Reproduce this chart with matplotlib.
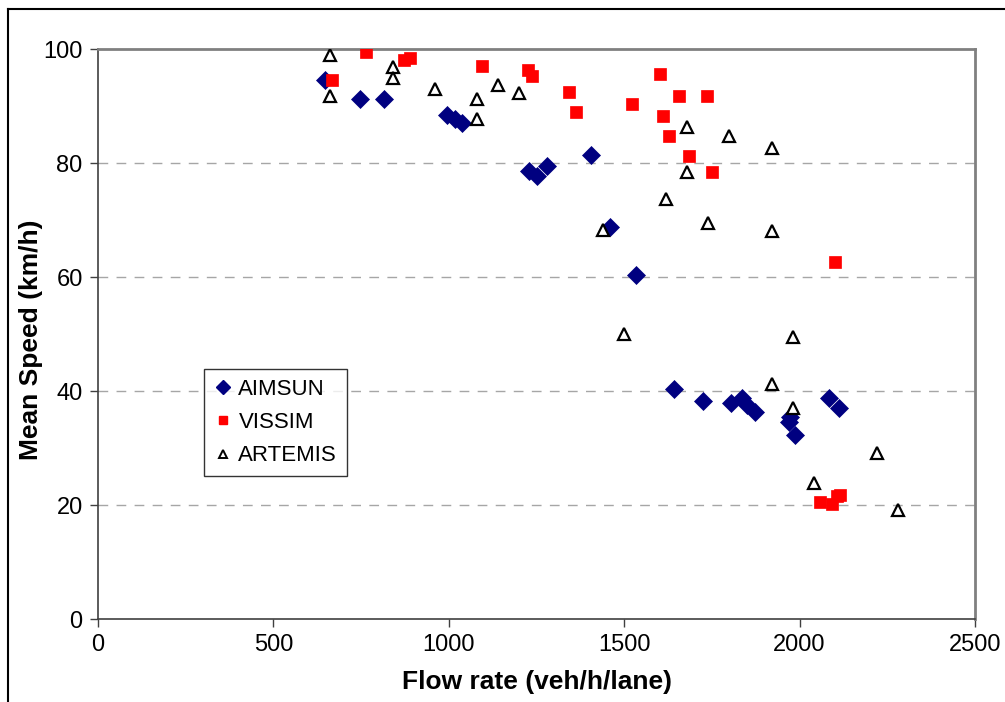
import matplotlib
matplotlib.use("Agg")
import matplotlib.pyplot as plt
from matplotlib.lines import Line2D

plt.rcParams['font.family'] = ['Liberation Sans', 'DejaVu Sans']

# AIMSUN
aimsun_flow = [648, 747, 816, 994, 1018, 1039, 1229, 1250, 1279, 1404, 1459, 1535,
               1643, 1724, 1804, 1835, 1849, 1873, 1973, 1970, 1987, 2085, 2113]
aimsun_speed = [94.6, 91.2, 91.2, 88.4, 87.8, 87.0, 78.6, 77.8, 79.4, 81.4, 68.8, 60.3,
                40.4, 38.2, 37.9, 38.7, 37.5, 36.4, 35.5, 34.6, 32.3, 38.7, 37.1]

# VISSIM
vissim_flow = [666, 763, 872, 888, 1094, 1225, 1236, 1344, 1362, 1521, 1602, 1657, 1737,
               1612, 1629, 1686, 1749, 2101, 2058, 2091, 2106, 2115]
vissim_speed = [94.6, 99.5, 98.1, 98.4, 97.1, 96.3, 95.3, 92.5, 89.0, 90.4, 95.6, 91.8, 91.8,
                88.2, 84.7, 81.2, 78.5, 62.6, 20.6, 20.2, 21.5, 21.8]

# ARTEMIS
artemis_flow = [660, 660, 840, 840, 960, 1080, 1080, 1140, 1200, 1440, 1500, 1620, 1680,
                1680, 1740, 1800, 1920, 1920, 1920, 1980, 1980, 2040, 2220, 2280]
artemis_speed = [98.9, 91.8, 96.8, 95.0, 92.9, 91.2, 87.7, 93.6, 92.2, 68.2, 50.0, 73.6, 86.3,
                 78.5, 69.5, 84.7, 82.7, 68.1, 41.3, 49.4, 37.1, 23.8, 29.1, 19.2]

x_ticks = [0, 500, 1000, 1500, 2000, 2500]
y_ticks = [0, 20, 40, 60, 80, 100]

fig = plt.figure(figsize=(10.05, 7.02), dpi=100)
ax = fig.add_axes([98/1005, 1-619/702, (975-98)/1005, (619-49)/702])

ax.set_xlim(0, 2500)
ax.set_ylim(0, 100)
ax.set_xticks(x_ticks)
ax.set_yticks(y_ticks)

for yv in y_ticks[1:-1]:
    ax.axhline(yv, color='#a6a6a6', lw=1.0, ls=(0, (7, 6)), zorder=0)

ax.plot(aimsun_flow, aimsun_speed, ls='none', marker='D', ms=9.2,
        mfc='#000080', mec='#000080', mew=0.5, label='AIMSUN', zorder=3)
ax.plot(vissim_flow, vissim_speed, ls='none', marker='s', ms=8.2,
        mfc='#ff0000', mec='#ff0000', mew=0.5, label='VISSIM', zorder=3)
ax.plot(artemis_flow, artemis_speed, ls='none', marker='^', ms=8.3,
        mfc='white', mec='black', mew=1.6, label='ARTEMIS', zorder=4)

for s in ['top', 'right']:
    ax.spines[s].set_color('#808080')
    ax.spines[s].set_linewidth(2.0)
for s in ['left', 'bottom']:
    ax.spines[s].set_color('#404040')
    ax.spines[s].set_linewidth(1.2)

ax.tick_params(axis='both', direction='out', length=6, width=1.0, color='#404040',
               labelsize=17, pad=5)
ax.set_xlabel('Flow rate (veh/h/lane)', fontsize=19, fontweight='bold')
ax.set_ylabel('Mean Speed (km/h)', fontsize=19, fontweight='bold')
ax.xaxis.set_label_coords(0.5, (619-670)/570)
ax.yaxis.set_label_coords((43-98)/877, 0.49)

handles = [
    Line2D([], [], ls='none', marker='D', ms=7, mfc='#000080', mec='#000080'),
    Line2D([], [], ls='none', marker='s', ms=6, mfc='#ff0000', mec='#ff0000'),
    Line2D([], [], ls='none', marker='^', ms=6, mfc='white', mec='black', mew=1.4),
]
leg = ax.legend(handles, ['AIMSUN', 'VISSIM', 'ARTEMIS'], loc='upper left',
                bbox_to_anchor=((204-98)/877, (619-369)/570), fontsize=16,
                frameon=True, fancybox=False, edgecolor='black', borderpad=0.45,
                handlelength=0.8, handletextpad=0.3, labelspacing=0.55, borderaxespad=0)
leg.get_frame().set_linewidth(1.0)

# outer chart frame
fig.add_artist(Line2D([8/1005, 8/1005], [0, 1-9/702], color='black', lw=1.5,
                      transform=fig.transFigure))
fig.add_artist(Line2D([8/1005, 1], [1-9/702, 1-9/702], color='black', lw=1.5,
                      transform=fig.transFigure))

fig.savefig('out.png', dpi=100)
